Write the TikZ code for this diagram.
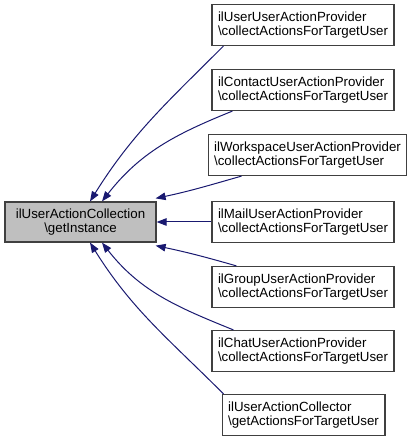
\documentclass[tikz,border=0pt]{standalone}
\usepackage{fontspec}
\setmainfont{Liberation Sans}
\usetikzlibrary{arrows.meta}
\definecolor{edgeblue}{HTML}{191970}
\definecolor{boxline}{HTML}{404040}
\definecolor{boxfill}{HTML}{BFBFBF}
\begin{document}
\begin{tikzpicture}[x=1pt,y=1pt,
    fn/.style={draw=boxline,line width=1.2pt,rectangle,align=left,inner xsep=6pt,
        minimum height=41pt,font=\fontsize{13.3}{13.5}\selectfont},
    caller/.style={edgeblue,line width=1pt,-{Triangle[length=10pt,width=7.5pt]}}]
            \useasboundingbox (0,0) rectangle (416,444);
            % the function itself
            \node [fn,fill=boxfill,align=center,minimum width=151pt,minimum height=40pt] (coll) at (80.5,222)
                {ilUserActionCollection\\\textbackslash getInstance};
            % its callers
            \node [fn] (user) at (303,419) {ilUserUserActionProvider\\\textbackslash collectActionsForTargetUser};
            \node [fn] (contact) at (303,354) {ilContactUserActionProvider\\\textbackslash collectActionsForTargetUser};
            \node [fn] (workspace) at (307.5,289) {ilWorkspaceUserActionProvider\\\textbackslash collectActionsForTargetUser};
            \node [fn] (mail) at (303,222) {ilMailUserActionProvider\\\textbackslash collectActionsForTargetUser};
            \node [fn] (group) at (303,157) {ilGroupUserActionProvider\\\textbackslash collectActionsForTargetUser};
            \node [fn] (chat) at (303,93) {ilChatUserActionProvider\\\textbackslash collectActionsForTargetUser};
            \node [fn] (collector) at (303.5,29) {ilUserActionCollector\\\textbackslash getActionsForTargetUser};
            % calls
            \draw [caller] ([xshift=12pt]user.south west) to[out=225,in=58] ([xshift=9.5pt]coll.north);
            \draw [caller] ([xshift=21pt]contact.south west) to[out=202,in=52] ([xshift=21.5pt]coll.north);
            \draw [caller] ([xshift=34pt]workspace.south west) to[out=196,in=12] ([xshift=-1pt,yshift=3pt]coll.north east);
            \draw [caller] (mail.west) -- (coll.east);
            \draw [caller] ([xshift=25pt]group.north west) to[out=164,in=-12] ([xshift=-1pt,yshift=-3pt]coll.south east);
            \draw [caller] ([xshift=22pt]chat.north west) to[out=158,in=-52] ([xshift=21.5pt]coll.south);
            \draw [caller] ([xshift=2pt]collector.north west) to[out=135,in=-58] ([xshift=9.5pt]coll.south);
        \end{tikzpicture}
\end{document}
